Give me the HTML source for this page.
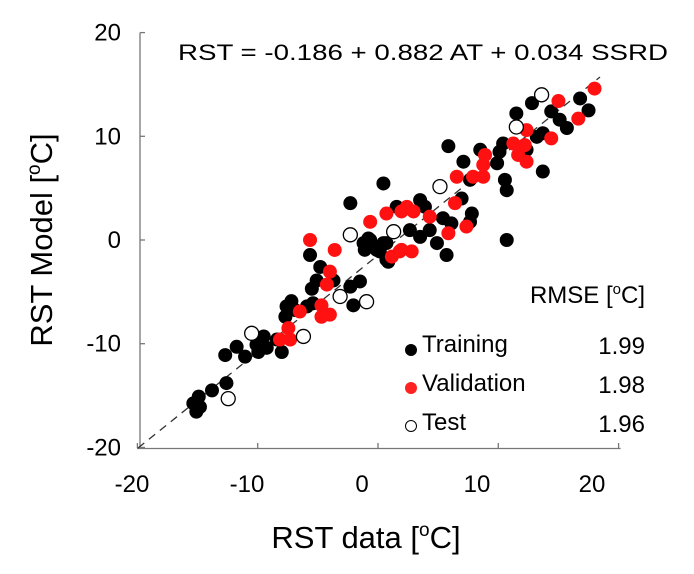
<!DOCTYPE html>
<html><head><meta charset="utf-8"><style>
body{margin:0;background:#fff;}
svg{display:block;font-family:"Liberation Sans",sans-serif;}
</style></head><body>
<svg id="chart" width="694" height="574" viewBox="0 0 694 574">
<g id="axes"></g>
<line x1="138" y1="448" x2="600" y2="77" stroke="#333" stroke-width="1.3" stroke-dasharray="8,6"/>
<g id="points"></g>
<text x="423" y="60" font-size="22" text-anchor="middle" textLength="490" lengthAdjust="spacingAndGlyphs">RST = -0.186 + 0.882 AT + 0.034 SSRD</text>
<text x="366" y="548" font-size="31" text-anchor="middle">RST data [<tspan font-size="19" dy="-12">o</tspan><tspan dy="12">C]</tspan></text>
<text transform="translate(52,240) rotate(-90)" font-size="31" text-anchor="middle">RST Model [<tspan font-size="19" dy="-12">o</tspan><tspan dy="12">C]</tspan></text>
<g font-size="24">
<text x="645" y="303" text-anchor="end">RMSE [<tspan font-size="15" dy="-9">o</tspan><tspan dy="9">C]</tspan></text>
<circle cx="411" cy="350" r="6" fill="#000"/>
<text x="422" y="352">Training</text>
<text x="645" y="354" text-anchor="end">1.99</text>
<circle cx="411" cy="388" r="6" fill="#f22"/>
<text x="422" y="391">Validation</text>
<text x="645" y="393" text-anchor="end">1.98</text>
<circle cx="411" cy="426" r="5.5" fill="#fff" stroke="#000" stroke-width="1"/>
<text x="422" y="430">Test</text>
<text x="645" y="432" text-anchor="end">1.96</text>
</g>
</svg>
<script>
const xTicks=[-20,-10,0,10,20];
const yTicks=[-20,-10,0,10,20];
const trainX=[-5.65,-4.8,-5.5,-5.1,-3.7,-2.3,-1.5,-2.05,-7.2,-7.6,-6.9,-7.7,-5.9,-5.4,-8.4,-8.0,-9.5,-10.1,-9.25,-9.95,-11.75,-11.05,-12.7,-12.6,-13.8,-14.9,-15.35,-15.1,-14.8,-0.65,-0.1,0.7,0.45,-1.2,5.85,7.1,0.45,-2.3,8.5,11.5,12.8,14.4,16.8,17.5,15.7,15.1,13.7,13.2,10.4,10.1,9.9,10.55,10.7,13.7,10.7,7.65,6.95,3.5,1.55,3.9,7.8,7.65,5.4,6.1,2.65,4.3,4.9,3.5,0.7,-0.8,-1.1,0.15,0.85,5.7,12.35];
const trainY=[-1.45,-2.6,-4.7,-3.9,-3.9,-4.5,-4.0,-6.3,-5.9,-6.4,-6.75,-7.4,-6.4,-6.1,-9.6,-10.8,-9.3,-10.1,-10.4,-10.8,-10.3,-11.25,-11.1,-13.8,-14.5,-15.1,-15.75,-16.55,-16.1,0,-0.96,-1.9,-0.3,-0.3,9.05,7.55,5.45,3.55,8.7,12.2,13.2,12.4,13.65,12.5,10.8,11.6,10.3,9.95,9.3,8.5,7.4,5.8,4.8,6.6,0,5.8,4.0,3.85,3.2,3.2,2.55,1.75,2.1,1.6,0.95,0.95,-0.3,0.3,-0.3,0.15,-0.95,-1.1,-2.1,-1.45,8.7];
const valX=[-5.65,-3.6,-4.0,-4.25,-4.7,-4.0,-4.7,-6.5,-7.45,-8.15,-7.3,1.15,1.8,18.0,15.0,16.65,14.4,12.35,11.25,12.2,11.65,12.35,8.9,8.75,7.9,8.75,6.55,6.4,4.3,2.4,2.95,1.95,0.7,-0.65,7.35,5.85,2.8,1.95];
const valY=[0,-0.96,-3.05,-4.3,-6.3,-7.2,-7.4,-6.9,-8.5,-9.6,-9.6,-1.6,-1.1,14.6,13.4,11.7,9.8,10.6,9.3,9.15,8.2,7.55,8.2,7.25,6.1,6.1,6.1,3.55,2.25,3.2,2.75,2.75,2.55,1.75,1.3,0.65,-1.1,-0.95];
const testX=[-2.3,-3.15,-0.95,-6.2,-10.5,-12.45,1.3,13.6,11.5,5.15];
const testY=[0.5,-5.45,-5.95,-9.3,-9.0,-15.3,0.8,14.0,10.9,5.15];
const NS="http://www.w3.org/2000/svg";
function X(v){return 378+v*12.03;}
function Y(v){return 240-v*10.37;}
function XL(v){return 362+v*11.5;}
const axes=document.getElementById('axes');
function mk(tag,attrs,parent){const e=document.createElementNS(NS,tag);for(const k in attrs)e.setAttribute(k,attrs[k]);parent.appendChild(e);return e;}
let l=mk('line',{x1:140,y1:Y(20),x2:140,y2:448.5,stroke:'#777','stroke-width':1.3},axes);


l=mk('line',{x1:137,y1:448.5,x2:X(20)+2,y2:448.5,stroke:'#777','stroke-width':1.3},axes);


xTicks.forEach((t,i)=>{
 const tk=mk('line',{x1:X(t),y1:448,x2:X(t),y2:443,stroke:'#777','stroke-width':1.3},axes);
 
 
 const tx=mk('text',{x:XL(t),y:492,'font-size':24,'text-anchor':'middle'},axes);
 tx.textContent=t;
 
 
});
yTicks.forEach(t=>{
 const tk=mk('line',{x1:140,y1:Y(t),x2:145,y2:Y(t),stroke:'#777','stroke-width':1.3},axes);
 
 
 const tx=mk('text',{x:121,y:Y(t)+8,'font-size':24,'text-anchor':'end'},axes);
 tx.textContent=t;
 
 
});
const pts=document.getElementById('points');
trainX.forEach((v,i)=>{
 const c=mk('circle',{cx:X(v),cy:Y(trainY[i]),r:7,fill:'#000'},pts);
 
 
});
valX.forEach((v,i)=>{
 const c=mk('circle',{cx:X(v),cy:Y(valY[i]),r:7,fill:'#f11'},pts);
 
 
});
testX.forEach((v,i)=>{
 const c=mk('circle',{cx:X(v),cy:Y(testY[i]),r:7,fill:'#fff',stroke:'#000','stroke-width':1.3},pts);
 
 
});
</script>
</body></html>
